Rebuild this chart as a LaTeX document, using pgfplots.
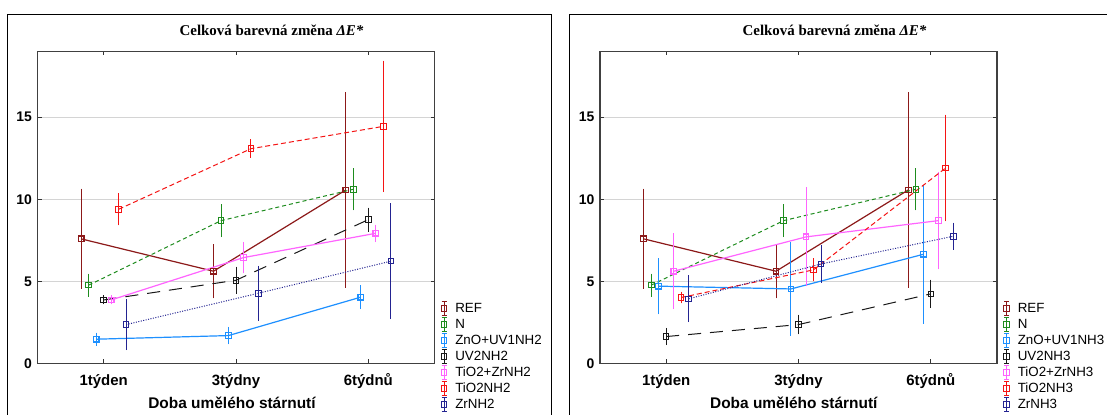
\documentclass[border=0pt]{standalone}
\usepackage{fontspec}
\setmainfont{Liberation Sans}
\newfontfamily\serifT{Liberation Serif}
\usepackage{pgfplots}
\pgfplotsset{compat=1.18}

\definecolor{cREF}{RGB}{140,25,25}
\definecolor{cN}{RGB}{30,140,30}
\definecolor{cZnO}{RGB}{30,144,255}
\definecolor{cUV}{RGB}{25,25,25}
\definecolor{cTZ}{RGB}{255,100,255}
\definecolor{cTi}{RGB}{245,20,20}
\definecolor{cZr}{RGB}{35,35,145}

\pgfplotsset{
  myaxis/.style={
    scale only axis, width=397bp, height=312bp,
    xmin=-0.5, xmax=2.5, ymin=0, ymax=19,
    xtick={0,1,2}, xticklabels={1týden,3týdny,6týdnů},
    ytick={0,5,10,15},
    ymajorgrids, major grid style={draw=black!17, line width=1.2bp},
    axis line style={draw=black!75, line width=1.1bp},
    tick style={draw=black!80, line width=0.8bp},
    major tick length=4bp, tick align=inside,
    /pgf/number format/assume math mode=true,
    yticklabel style={font=\bfseries\fontsize{14}{14}\selectfont, xshift=-2bp},
    xticklabel style={font=\bfseries\fontsize{15}{15}\selectfont, anchor=base, yshift=-21.8bp},
    legend style={draw=none, fill=none, at={(1,0)}, anchor=north west,
      xshift=6.2bp, yshift=62.5bp, inner sep=0pt, outer sep=0pt, row sep=1bp,
      font=\fontsize{13.4}{13.4}\selectfont, nodes={inner sep=0pt},
      /tikz/every odd column/.append style={column sep=8bp}},
    legend cell align=left,
    legend image code/.code={
      \draw[##1, solid, line width=1bp] (0bp,-7bp) -- (0bp,7bp) (-2.5bp,-7bp) -- (2.5bp,-7bp) (-2.5bp,7bp) -- (2.5bp,7bp);
      \draw[##1, solid, line width=1bp] (-2.8bp,-2.8bp) rectangle (2.8bp,2.8bp);
    },
    every axis plot/.append style={line width=1bp, mark=square, mark size=2.8bp, mark options={solid}},
  },
  eb/.style={/pgfplots/error bars/y dir=both, /pgfplots/error bars/y explicit,
    /pgfplots/error bars/error bar style={solid, line width=1bp},
    /pgfplots/error bars/error mark options={solid, line width=1bp, mark size=2.5bp}},
  sREF/.style={color=cREF, solid, line width=1.2bp},
  sN/.style={color=cN, dash pattern=on 4bp off 3bp},
  sZnO/.style={color=cZnO, solid, line width=1.2bp},
  sUV/.style={color=cUV, dash pattern=on 13bp off 9bp},
  sTZ/.style={color=cTZ, solid, line width=1.2bp},
  sTi/.style={color=cTi, dash pattern=on 5bp off 3bp},
  sZr/.style={color=cZr, dash pattern=on 1bp off 1.5bp},
}

\begin{document}
\begin{tikzpicture}
\useasboundingbox (0,0) rectangle (1107bp,415bp);
\fill[white] (0,0) rectangle (1107bp,415bp);
\draw[line width=1bp] (7bp,-5bp) -- (7bp,400.3bp) -- (551.7bp,400.3bp) -- (551.7bp,-5bp);
\draw[line width=1bp] (569.7bp,-5bp) -- (569.7bp,400.3bp) -- (1120bp,400.3bp);

\node[font=\serifT\bfseries\fontsize{15}{15}\selectfont, anchor=base] at (271.5bp,379bp) {Celková barevná změna {\itshape ΔE*}};
\node[font=\serifT\bfseries\fontsize{15}{15}\selectfont, anchor=base] at (834.5bp,379bp) {Celková barevná změna {\itshape ΔE*}};
\node[font=\bfseries\fontsize{15.5}{15.5}\selectfont, anchor=base] at (232bp,6.3bp) {Doba umělého stárnutí};
\node[font=\bfseries\fontsize{15.5}{15.5}\selectfont, anchor=base] at (793.8bp,6.3bp) {Doba umělého stárnutí};

\begin{axis}[myaxis, at={(37.5bp,51.5bp)}, anchor=south west]
\addplot[sREF, eb] table[x=x, y=y, y error=e] {
x y e
-0.17 7.59 2.9
0.83 5.62 1.5
1.83 10.57 5.8
};
\addlegendentry{REF}
\addplot[sN, eb] table[x=x, y=y, y error=e] {
x y e
-0.113 4.77 0.55
0.887 8.70 0.85
1.887 10.61 1.13
};
\addlegendentry{N}
\addplot[sZnO, eb] table[x=x, y=y, y error=e] {
x y e
-0.057 1.48 0.25
0.943 1.70 0.38
1.943 4.04 0.58
};
\addlegendentry{ZnO+UV1NH2}
\addplot[sUV, eb] table[x=x, y=y, y error=e] {
x y e
0 3.87 0.12
1 5.07 0.67
2 8.76 0.58
};
\addlegendentry{UV2NH2}
\addplot[sTZ, eb] table[x=x, y=y, y error=e] {
x y e
0.057 3.87 0.12
1.057 6.45 0.81
2.057 7.93 0.38
};
\addlegendentry{TiO2+ZrNH2}
\addplot[sTi, eb] table[x=x, y=y, y error=e] {
x y e
0.113 9.39 0.83
1.113 13.08 0.41
2.113 14.44 3.85
};
\addlegendentry{TiO2NH2}
\addplot[sZr, eb] table[x=x, y=y, y error=e] {
x y e
0.17 2.37 1.40
1.17 4.28 1.52
2.17 6.23 3.37
};
\addlegendentry{ZrNH2}
\end{axis}

\begin{axis}[myaxis, at={(600bp,51.5bp)}, anchor=south west]
\addplot[sREF, eb] table[x=x, y=y, y error=e] {
x y e
-0.17 7.59 2.9
0.83 5.62 1.5
1.83 10.57 5.8
};
\addlegendentry{REF}
\addplot[sN, eb] table[x=x, y=y, y error=e] {
x y e
-0.113 4.77 0.55
0.887 8.70 0.85
1.887 10.61 1.13
};
\addlegendentry{N}
\addplot[sZnO, eb] table[x=x, y=y, y error=e] {
x y e
-0.057 4.71 1.56
0.943 4.54 2.69
1.943 6.65 4.08
};
\addlegendentry{ZnO+UV1NH3}
\addplot[sUV, eb] table[x=x, y=y, y error=e] {
x y e
0 1.64 0.37
1 2.37 0.45
2 4.24 0.71
};
\addlegendentry{UV2NH3}
\addplot[sTZ, eb] table[x=x, y=y, y error=e] {
x y e
0.057 5.62 2.16
1.057 7.71 2.86
2.057 8.70 2.81
};
\addlegendentry{TiO2+ZrNH3}
\addplot[sTi, eb] table[x=x, y=y, y error=e] {
x y e
0.113 4.02 0.2
1.113 5.70 0.55
2.113 11.91 3.1
};
\addlegendentry{TiO2NH3}
\addplot[sZr, eb] table[x=x, y=y, y error=e] {
x y e
0.17 3.94 1.27
1.17 6.06 1.0
2.17 7.75 0.67
};
\addlegendentry{ZrNH3}
\end{axis}
\end{tikzpicture}
\end{document}
